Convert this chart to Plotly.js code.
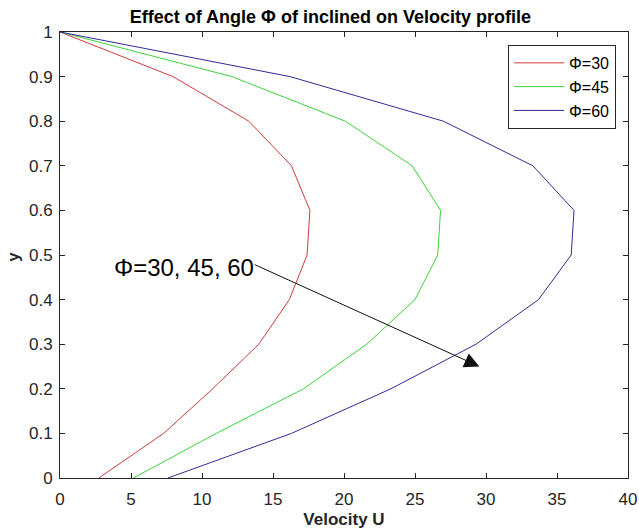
<!DOCTYPE html>
<html>
<head>
<meta charset="utf-8">
<script src="https://cdn.plot.ly/plotly-3.0.1.min.js"></script>
<style>html,body{margin:0;padding:0;background:#fff;}#chart{width:639px;height:532px;}</style>
</head>
<body>
<div id="chart"></div>
<script>
// y positions (shared)
const yPos = [0, 0.1, 0.2, 0.3, 0.4, 0.5, 0.6, 0.7, 0.8, 0.9, 1.0];
// Velocity U for each inclination angle
const u30 = [2.73, 7.3, 10.75, 14.0, 16.15, 17.4, 17.6, 16.3, 13.3, 7.96, 0];
const u45 = [5.17, 11.0, 17.15, 21.6, 25.0, 26.6, 26.8, 24.8, 20.1, 12.1, 0];
const u60 = [7.6, 16.3, 23.3, 29.3, 33.7, 36.0, 36.2, 33.3, 27.0, 16.2, 0];
const seriesNames = ['Φ=30', 'Φ=45', 'Φ=60'];
const xTicks = [0, 5, 10, 15, 20, 25, 30, 35, 40];
const yTicks = [0, 0.1, 0.2, 0.3, 0.4, 0.5, 0.6, 0.7, 0.8, 0.9, 1];
const noteText = 'Φ=30, 45, 60';

const colors = ['#d03c3c', '#3cd23c', '#2d2d96'];
const FONT = 'Liberation Sans, Arial, Helvetica, sans-serif';
const AX = '#262626';

const traces = [u30, u45, u60].map((u, i) => ({
  x: u, y: yPos, type: 'scatter', mode: 'lines', name: seriesNames[i],
  line: {color: colors[i], width: 1}
}));

const layout = {
  width: 639, height: 532,
  margin: {l: 60, r: 11, t: 32, b: 54, pad: 0},
  paper_bgcolor: '#fff', plot_bgcolor: '#fff',
  font: {family: FONT, color: AX},
  title: {text: '<b>Effect of Angle Φ of inclined on Velocity profile</b>',
    font: {family: FONT, size: 18, color: '#000'},
    x: 0.517, xanchor: 'center', xref: 'container', y: 0.968, yanchor: 'middle', yref: 'container'},
  xaxis: {range: [0, 40], tickvals: xTicks, ticktext: xTicks.map(String),
    ticks: 'inside', ticklen: 5, tickwidth: 1, tickcolor: AX,
    showline: true, linecolor: AX, linewidth: 1, mirror: 'ticks',
    showgrid: false, zeroline: false, fixedrange: true, ticklabelstandoff: 6,
    tickfont: {family: FONT, size: 17, color: AX},
    title: {text: '<b>Velocity U</b>', font: {family: FONT, size: 17, color: AX}, standoff: 4}},
  yaxis: {range: [0, 1], tickvals: yTicks, ticktext: yTicks.map(String),
    ticks: 'inside', ticklen: 5, tickwidth: 1, tickcolor: AX,
    showline: true, linecolor: AX, linewidth: 1, mirror: 'ticks',
    showgrid: false, zeroline: false, fixedrange: true, ticklabelstandoff: 3,
    tickfont: {family: FONT, size: 17, color: AX}},
  legend: {x: 0.979, y: 0.971, xanchor: 'right', yanchor: 'top',
    bgcolor: '#fff', bordercolor: AX, borderwidth: 1, itemwidth: 50,
    font: {family: FONT, size: 16, color: '#000'}, tracegroupgap: 0},
  showlegend: true,
  annotations: [
    {x: -0.081, y: 0.496, xref: 'paper', yref: 'paper', text: '<b>y</b>', textangle: -90,
      showarrow: false, xanchor: 'center', yanchor: 'middle', font: {family: FONT, size: 17, color: AX}},
    {x: 3.66, y: 0.473, xref: 'x', yref: 'y', text: noteText, showarrow: false,
      xanchor: 'left', yanchor: 'middle', font: {family: FONT, size: 24, color: '#000'}},
    {x: 29.53, y: 0.25, ax: 13.6, ay: 0.48, xref: 'x', yref: 'y', axref: 'x', ayref: 'y',
      text: '', showarrow: true, arrowhead: 2, arrowsize: 3, arrowwidth: 1, arrowcolor: '#111'}
  ]
};

Plotly.newPlot('chart', traces, layout, {displayModeBar: false, staticPlot: true});
</script>
</body>
</html>
